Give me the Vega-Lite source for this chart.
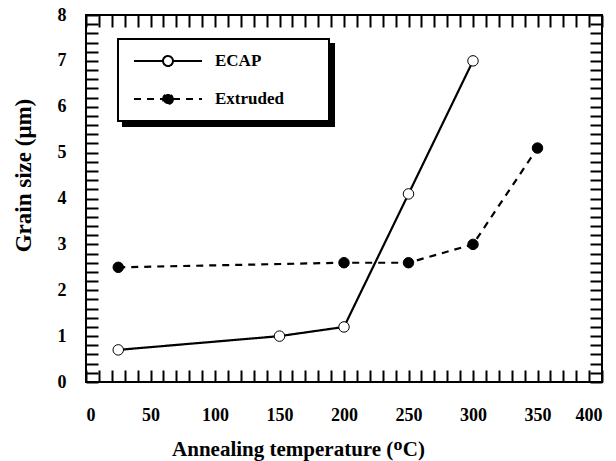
{
  "$schema": "https://vega.github.io/schema/vega-lite/v6.json",
  "width": 516,
  "height": 367,
  "autosize": {"type": "none"},
  "padding": {"left": 86, "top": 15, "right": 14, "bottom": 79},
  "background": "white",
  "config": {
    "view": {"stroke": "black", "strokeWidth": 2},
    "legend": {"strokeWidth": 2},
    "axis": {
      "domain": false,
      "grid": false,
      "zindex": 1,
      "tickColor": "black",
      "tickWidth": 2,
      "labelFont": "Liberation Serif",
      "labelFontWeight": "bold",
      "labelFontSize": 18,
      "labelColor": "black",
      "titleFont": "Liberation Serif",
      "titleFontWeight": "bold",
      "titleFontSize": 21,
      "titleColor": "black"
    }
  },
  "data": {
    "values": [
      {"series": "ECAP", "temp": 25, "size": 0.7},
      {"series": "ECAP", "temp": 150, "size": 1.0},
      {"series": "ECAP", "temp": 200, "size": 1.2},
      {"series": "ECAP", "temp": 250, "size": 4.1},
      {"series": "ECAP", "temp": 300, "size": 7.0},
      {"series": "Extruded", "temp": 25, "size": 2.5},
      {"series": "Extruded", "temp": 200, "size": 2.6},
      {"series": "Extruded", "temp": 250, "size": 2.6},
      {"series": "Extruded", "temp": 300, "size": 3.0},
      {"series": "Extruded", "temp": 350, "size": 5.1}
    ]
  },
  "resolve": {"axis": {"x": "independent", "y": "independent"}},
  "layer": [
    {
      "mark": {"type": "line", "strokeWidth": 2.2},
      "encoding": {
        "x": {
          "field": "temp", "type": "quantitative",
          "scale": {"domain": [0, 400], "nice": false},
          "axis": {
            "orient": "bottom",
            "zindex": 1,
            "values": [0,10,20,30,40,50,60,70,80,90,100,110,120,130,140,150,160,170,180,190,200,210,220,230,240,250,260,270,280,290,300,310,320,330,340,350,360,370,380,390,400],
            "labelExpr": "datum.value % 50 === 0 ? datum.label : ''",
            "tickSize": -12,
            "labelPadding": 36,
            "titlePadding": 14,
            "titleX": 212,
            "title": "Annealing temperature (ᴼC)",
            "encode": {"ticks": {"update": {"y2": {"signal": "datum.value % 50 === 0 ? -12 : -6"}}}}
          }
        },
        "y": {
          "field": "size", "type": "quantitative",
          "scale": {"domain": [0, 8], "nice": false},
          "axis": {
            "orient": "left",
            "zindex": 1,
            "values": [0,0.2,0.4,0.6,0.8,1,1.2,1.4,1.6,1.8,2,2.2,2.4,2.6,2.8,3,3.2,3.4,3.6,3.8,4,4.2,4.4,4.6,4.8,5,5.2,5.4,5.6,5.8,6,6.2,6.4,6.6,6.8,7,7.2,7.4,7.6,7.8,8],
            "labelExpr": "abs(datum.value - round(datum.value)) < 0.001 ? format(datum.value, 'd') : ''",
            "tickSize": -12,
            "labelPadding": 32,
            "titlePadding": 22,
            "titleY": 160,
            "titleFontSize": 23,
            "title": "Grain size (μm)",
            "encode": {"ticks": {"update": {"x2": {"signal": "abs(datum.value - round(datum.value)) < 0.001 ? 12 : 6"}}}}
          }
        },
        "detail": {"field": "series"},
        "stroke": {
          "field": "series", "type": "nominal",
          "scale": {"domain": ["Extruded", "ECAP"], "range": ["black", "black"]},
          "legend": {
            "orient": "none", "legendX": 37, "legendY": 29,
            "zindex": 2,
            "title": null,
            "symbolType": "M-0.79,0H-0.116M0.116,0H0.79M0.116,0A0.116,0.116 0 1,1 -0.116,0A0.116,0.116 0 1,1 0.116,0",
            "symbolSize": 7396,
            "symbolStrokeWidth": 2,
            "symbolStrokeColor": "black",
            "symbolFillColor": "black",
            "clipHeight": 32,
            "rowPadding": 6,
            "padding": 6,
            "labelOffset": 3,
            "labelFont": "Liberation Serif",
            "labelFontWeight": "bold",
            "labelFontSize": 17,
            "labelColor": "black",
            "labelExpr": "datum.label + '         \u200b'",
            "fillColor": "black",
            "strokeColor": "black",
            "encode": {"legend": {"update": {"fill": {"value": "black"}}}}
          }
        },
        "strokeDash": {
          "field": "series", "type": "nominal",
          "scale": {"domain": ["ECAP", "Extruded"], "range": [[1, 0], [7, 6]]},
          "legend": {
            "orient": "none", "legendX": 32, "legendY": 24,
            "zindex": 3,
            "title": null,
            "symbolType": "M-0.79,0H-0.116M0.116,0H0.79M0.116,0A0.116,0.116 0 1,1 -0.116,0A0.116,0.116 0 1,1 0.116,0",
            "symbolSize": 7396,
            "symbolStrokeWidth": 2,
            "symbolStrokeColor": "black",
            "clipHeight": 32,
            "rowPadding": 6,
            "padding": 6,
            "labelOffset": 3,
            "labelFont": "Liberation Serif",
            "labelFontWeight": "bold",
            "labelFontSize": 17,
            "labelColor": "black",
            "labelExpr": "datum.label + '         \u200b'",
            "fillColor": "white",
            "strokeColor": "black",
            "encode": {
              "legend": {"update": {"fill": {"value": "white"}}},
              "symbols": {
                "update": {
                  "fill": {"signal": "datum.value === 'ECAP' ? 'white' : 'black'"},
                  "stroke": {"value": "black"}
                }
              }
            }
          }
        }
      }
    },
    {
      "mark": {"type": "point", "shape": "circle", "size": 110, "filled": true, "stroke": "black", "strokeWidth": 1, "opacity": 1},
      "encoding": {
        "x": {
          "field": "temp", "type": "quantitative",
          "axis": {
            "orient": "top",
            "zindex": 1,
            "values": [0,10,20,30,40,50,60,70,80,90,100,110,120,130,140,150,160,170,180,190,200,210,220,230,240,250,260,270,280,290,300,310,320,330,340,350,360,370,380,390,400],
            "labels": false,
            "tickSize": -12,
            "title": null,
            "encode": {"ticks": {"update": {"y2": {"signal": "datum.value % 50 === 0 ? 12 : 6"}}}}
          }
        },
        "y": {
          "field": "size", "type": "quantitative",
          "axis": {
            "orient": "right",
            "zindex": 1,
            "values": [0,0.2,0.4,0.6,0.8,1,1.2,1.4,1.6,1.8,2,2.2,2.4,2.6,2.8,3,3.2,3.4,3.6,3.8,4,4.2,4.4,4.6,4.8,5,5.2,5.4,5.6,5.8,6,6.2,6.4,6.6,6.8,7,7.2,7.4,7.6,7.8,8],
            "labels": false,
            "tickSize": -12,
            "title": null,
            "encode": {"ticks": {"update": {"x2": {"signal": "abs(datum.value - round(datum.value)) < 0.001 ? -12 : -6"}}}}
          }
        },
        "fill": {
          "field": "series", "type": "nominal",
          "scale": {"domain": ["ECAP", "Extruded"], "range": ["white", "black"]},
          "legend": null
        }
      }
    }
  ]
}
